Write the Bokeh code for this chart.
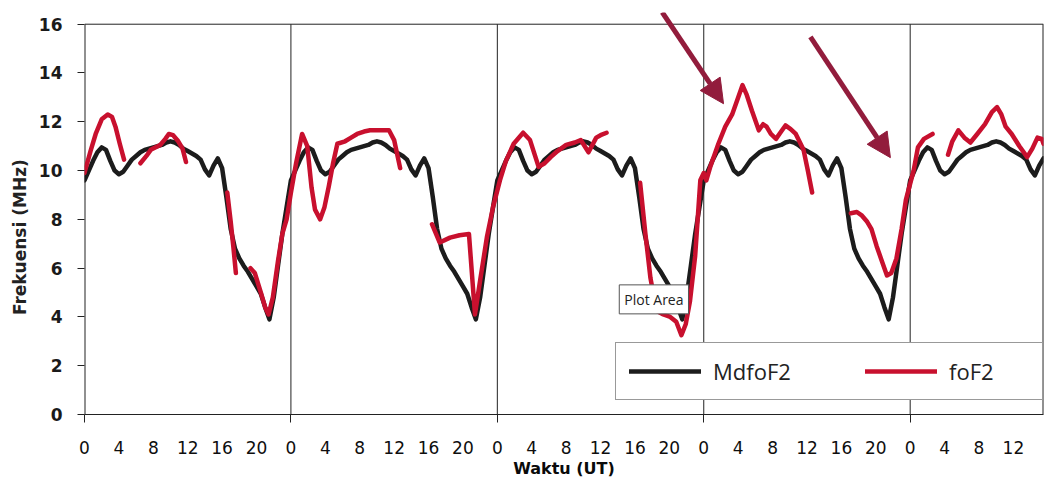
import math
import numpy as np
from bokeh.plotting import figure
from bokeh.models import (Range1d, FixedTicker, Legend, LegendItem, Label,
                          Arrow, NormalHead)
from bokeh.embed import file_html
from bokeh.resources import INLINE

# ---------------- data ----------------
# Monthly median MdfoF2: one 24-hour profile (half-hour readings) that repeats every day
HOURS_OF_DAY = [h * 0.5 for h in range(48)]
MDFOF2_DAILY = [9.6, 10.0, 10.4, 10.75, 10.95, 10.85, 10.4, 10.0, 9.85, 9.95,
                10.2, 10.45, 10.6, 10.75, 10.85, 10.9, 10.95, 11.0, 11.05, 11.15,
                11.2, 11.15, 11.05, 10.9, 10.8, 10.7, 10.6, 10.45, 10.05, 9.8,
                10.2, 10.5, 10.1, 8.9, 7.6, 6.8, 6.4, 6.1, 5.85, 5.55,
                5.25, 4.95, 4.4, 3.9, 4.8, 6.1, 7.4, 8.5]
N_DAYS = 5
X_END = 111.5

# Observed foF2 (hour counted from the first day's 00 UT); None = no data
FOF2_T = [0.0, 0.7, 1.3, 2.0, 2.7, 3.2, 3.6, 4.1, 4.6, None,
          6.5, 7.2, 7.7, 8.8, 9.4, 9.8, 10.3, 10.9, 11.4, 11.8, None,
          16.6, 17.0, 17.3, 17.6, None,
          19.3, 19.8, 20.5, 21.0, 21.4, 21.9, 22.5, 23.0, 23.5,
          24.0, 24.6, 25.3, 25.9, 26.4, 26.8, 27.4, 27.9, 28.4, 28.9, 29.4,
          30.3, 31.0, 31.7, 32.5, 33.2, 34.5, 35.4, 36.0, 36.7, None,
          40.4, 41.3, 42.5, 43.6, 44.7, 45.4, 46.0, 46.8, 47.5,
          48.3, 49.0, 49.9, 51.0, 51.8, 52.8, 53.5, 54.2, 55.0, 56.0, 57.0,
          57.7, 58.6, 59.5, 60.0, 60.7, None,
          64.6, 65.2, 65.8, 66.5, 67.3, 68.1, 68.8, 69.4, 69.9, 70.4, 71.0, 71.6,
          72.0, 72.3, 72.8, 73.7, 74.5, 75.3, 76.0, 76.5, 77.0, 77.6, 78.4,
          78.9, 79.3, 79.8, 80.4, 81.0, 81.5, 82.1, 82.7, 83.6, 84.1, 84.6, None,
          89.1, 89.8, 90.4, 91.0, 91.5, 92.1, 92.6, 93.3, 93.8, 94.4, 95.0, 95.5,
          96.4, 96.9, 97.6, 98.6, None,
          100.4, 100.9, 101.6, 102.3, 103.0, 103.8, 104.7, 105.5, 106.1, 106.6,
          107.1, 107.8, 108.7, 109.6, 110.2, 110.8, 111.3, 111.5]
FOF2_V = [9.9, 10.8, 11.5, 12.1, 12.3, 12.2, 11.8, 11.1, 10.45, None,
          10.3, 10.6, 10.85, 11.05, 11.3, 11.5, 11.45, 11.2, 10.9, 10.35, None,
          9.1, 7.9, 6.9, 5.8, None,
          6.0, 5.8, 5.0, 4.4, 4.1, 4.8, 6.3, 7.4, 8.0,
          9.1, 10.3, 11.5, 11.0, 9.3, 8.4, 8.0, 8.5, 9.35, 10.3, 11.1,
          11.2, 11.35, 11.5, 11.6, 11.65, 11.65, 11.65, 11.25, 10.1, None,
          7.8, 7.05, 7.25, 7.35, 7.4, 4.1, 5.5, 7.3, 8.5,
          9.6, 10.4, 11.1, 11.55, 11.25, 10.15, 10.3, 10.55, 10.8, 11.05, 11.15,
          11.25, 10.75, 11.35, 11.45, 11.55, None,
          9.5, 7.45, 5.6, 4.25, 4.1, 4.0, 3.8, 3.25, 3.7, 4.65, 6.5, 9.6,
          9.9, 9.6, 10.2, 11.1, 11.8, 12.3, 13.0, 13.5, 13.1, 12.45, 11.65,
          11.9, 11.8, 11.5, 11.3, 11.6, 11.85, 11.7, 11.5, 10.85, 10.0, 9.1, None,
          8.25, 8.3, 8.15, 7.9, 7.6, 6.9, 6.4, 5.7, 5.8, 6.4, 7.6, 8.8,
          10.0, 10.95, 11.3, 11.5, None,
          10.65, 11.2, 11.65, 11.35, 11.15, 11.5, 11.9, 12.4, 12.6, 12.3,
          11.8, 11.5, 11.0, 10.55, 10.9, 11.35, 11.3, 11.1]

X_TICKS = list(range(0, 112, 4))
DAY_STARTS = [0, 24, 48, 72, 96]
Y_TICKS = list(range(0, 17, 2))
Y_MAX = 16

# ---------------- figure ----------------
BLACK = "#1c1c1c"
RED = "#c8102e"
ARROW_C = "#921c3c"
FRAME_C = "#222222"

# frame: left 84, right 1043, bottom 422; a little headroom above 16 for the arrows
p = figure(width=1046, height=480, x_range=Range1d(0, X_END), y_range=Range1d(0, 16.48),
           output_backend="svg", toolbar_location=None,
           min_border_left=84, min_border_right=3, min_border_top=12, min_border_bottom=58)
p.background_fill_color = "white"
p.border_fill_color = "white"
p.outline_line_color = None

# plot-area box (top/right/left) and day separators, stopping at 16
p.segment(x0=[0, 0, X_END], y0=[0, Y_MAX, 0], x1=[0, X_END, X_END], y1=[Y_MAX, Y_MAX, Y_MAX],
          line_color=FRAME_C, line_width=[2, 1, 2])
p.segment(x0=DAY_STARTS[1:], y0=[0] * 4, x1=DAY_STARTS[1:], y1=[Y_MAX] * 4,
          line_color=FRAME_C, line_width=1)

md_x, md_y = [], []
for d in range(N_DAYS):
    for h, v in zip(HOURS_OF_DAY, MDFOF2_DAILY):
        t = d * 24 + h
        if t <= X_END:
            md_x.append(t)
            md_y.append(v)

fx = [np.nan if t is None else t for t in FOF2_T]
fy = [np.nan if v is None else v for v in FOF2_V]

r_md = p.line(md_x, md_y, line_color=BLACK, line_width=4.5, line_join="round", line_cap="round")
r_fo = p.line(fx, fy, line_color=RED, line_width=4.5, line_join="round", line_cap="round")

# axes
xa = p.xaxis[0]
xa.ticker = FixedTicker(ticks=X_TICKS, minor_ticks=DAY_STARTS)
xa.major_label_overrides = {t: str(t % 24) for t in X_TICKS}
xa.major_tick_in = 0
xa.major_tick_out = 0
xa.minor_tick_in = 0
xa.minor_tick_out = 8
xa.minor_tick_line_color = FRAME_C
xa.major_label_standoff = 18
xa.major_label_text_font = "DejaVu Sans"
xa.major_label_text_font_size = "17px"
xa.major_label_text_color = "#0e0e0e"
xa.axis_line_color = FRAME_C
xa.axis_label = "Waktu (UT)"
xa.axis_label_text_font = "DejaVu Sans"
xa.axis_label_text_font_style = "bold"
xa.axis_label_text_font_size = "16px"
xa.axis_label_text_color = "#0a0a0a"
xa.axis_label_standoff = 2

ya = p.yaxis[0]
ya.ticker = FixedTicker(ticks=Y_TICKS)
ya.major_tick_in = 0
ya.major_tick_out = 7
ya.minor_tick_line_color = None
ya.major_tick_line_color = FRAME_C
ya.major_label_standoff = 15
ya.major_label_text_font = "DejaVu Sans"
ya.major_label_text_font_style = "bold"
ya.major_label_text_font_size = "17px"
ya.major_label_text_color = "#1a1a1a"
ya.axis_line_color = None
ya.axis_label = "Frekuensi  (MHz)" + "\u00a0" * 7
ya.axis_label_text_font = "DejaVu Sans"
ya.axis_label_text_font_style = "bold"
ya.axis_label_text_font_size = "17px"
ya.axis_label_text_color = "#222222"
ya.axis_label_standoff = 6

p.xgrid.grid_line_color = None
p.ygrid.grid_line_color = None

# arrows
p.add_layout(Arrow(end=NormalHead(size=24, fill_color=ARROW_C, line_color=ARROW_C),
                   x_start=67.17, y_start=16.49, x_end=74.3, y_end=12.74,
                   line_color=ARROW_C, line_width=5))
p.add_layout(Arrow(end=NormalHead(size=24, fill_color=ARROW_C, line_color=ARROW_C),
                   x_start=84.4, y_start=15.48, x_end=93.7, y_end=10.53,
                   line_color=ARROW_C, line_width=5))

# "Plot Area" tag
p.add_layout(Label(x=66.2, y=4.72, text="Plot Area", text_font="Open Sans",
                   text_font_size="14px", text_align="center", text_baseline="middle",
                   text_color="#222222", border_line_color="#555555",
                   background_fill_color="white", padding=5))

legend = Legend(items=[LegendItem(label="MdfoF2", renderers=[r_md]),
                       LegendItem(label="foF2", renderers=[r_fo])],
                orientation="horizontal", location=(531, 14), padding=13, spacing=72,
                glyph_width=72, glyph_height=20, label_standoff=12, label_width=80,
                label_text_font="Open Sans", label_text_font_size="22px",
                label_text_color="#222222",
                border_line_color="#333333", border_line_width=1.5,
                background_fill_color="white", background_fill_alpha=1, margin=0)
p.add_layout(legend)

open("out.html", "w").write(file_html(p, INLINE))
